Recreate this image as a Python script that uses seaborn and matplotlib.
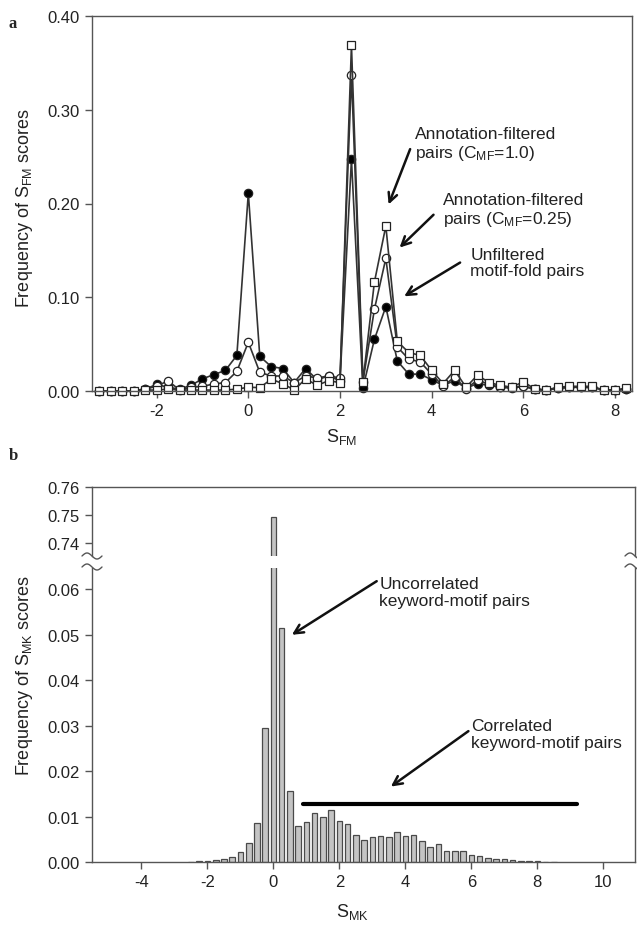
import numpy as np
import pandas as pd
import matplotlib
matplotlib.use("Agg")
import matplotlib.pyplot as plt
import seaborn as sns

# ---- panel a data: frequency of S_FM scores ----
score_a = np.arange(-3.25, 8.26, 0.25)
unfiltered = [0, 0, 0, 0, 0.002, 0.007, 0.004, 0.002, 0.006, 0.013, 0.0175, 0.022, 0.038,
              0.211, 0.037, 0.026, 0.024, 0.009, 0.024, 0.012, 0.016, 0.011, 0.247, 0.003,
              0.055, 0.090, 0.032, 0.018, 0.018, 0.012, 0.006, 0.011, 0.003, 0.008, 0.006,
              0.004, 0.003, 0.005, 0.002, 0.001, 0.003, 0.004, 0.004, 0.004, 0.001, 0.001, 0.002]
filt_025 = [0, 0, 0, 0, 0.002, 0.005, 0.011, 0.001, 0.004, 0.005, 0.0075, 0.009, 0.021,
            0.052, 0.020, 0.016, 0.016, 0.009, 0.016, 0.014, 0.016, 0.014, 0.337, 0.010,
            0.087, 0.1415, 0.047, 0.034, 0.031, 0.018, 0.005, 0.015, 0.002, 0.012, 0.007,
            0.004, 0.004, 0.005, 0.002, 0.001, 0.003, 0.004, 0.004, 0.004, 0.001, 0.001, 0.002]
filt_10 = [0, 0, 0, 0, 0.001, 0.001, 0.002, 0.001, 0.001, 0.001, 0.001, 0.001, 0.002,
           0.004, 0.0036, 0.0125, 0.008, 0.001, 0.013, 0.006, 0.011, 0.009, 0.369, 0.010,
           0.116, 0.176, 0.053, 0.041, 0.038, 0.022, 0.008, 0.022, 0.004, 0.017, 0.009,
           0.006, 0.004, 0.010, 0.002, 0.001, 0.004, 0.005, 0.005, 0.005, 0.001, 0.001, 0.003]

# ---- panel b data: frequency of S_MK scores ----
score_b = np.arange(-2.5, 8.51, 0.25)
freq_b = [0.0001, 0.0002, 0.0002, 0.0005, 0.0007, 0.0012, 0.0022, 0.0041, 0.0085, 0.0294,
          0.7495, 0.0515, 0.0156, 0.0080, 0.0088, 0.0108, 0.0098, 0.0115, 0.0091, 0.0084,
          0.0060, 0.0048, 0.0054, 0.0058, 0.0055, 0.0065, 0.0058, 0.0060, 0.0046, 0.0032,
          0.0039, 0.0024, 0.0024, 0.0024, 0.0015, 0.0013, 0.0009, 0.0007, 0.0006, 0.0004,
          0.0003, 0.0003, 0.0002, 0.0001, 0.0001]
corr_x = [0.9, 9.2]
corr_y = [0.0127, 0.0127]

df_b = pd.DataFrame({'score': score_b, 'freq': freq_b})

sns.set_style("white")
plt.rcParams['font.family'] = ['Liberation Sans', 'DejaVu Sans']
plt.rcParams['mathtext.fontset'] = 'custom'
plt.rcParams['mathtext.rm'] = 'Liberation Sans'
plt.rcParams['axes.unicode_minus'] = False

W, H = 637, 928
fig = plt.figure(figsize=(6.37, 9.28), dpi=100)

def box(l, t, r, b):
    return [l / W, 1 - b / H, (r - l) / W, (b - t) / H]

spine_c = '#555555'
line_c = '#333333'

def style(ax):
    for s in ax.spines.values():
        s.set_color(spine_c)
        s.set_linewidth(1.0)
    ax.tick_params(bottom=True, left=True, top=False, right=False, direction='out',
                   length=5, width=1, color=spine_c, labelsize=12, labelcolor='#222222', pad=4)
    ax.set_xlabel('')
    ax.set_ylabel('')

# ---------------- panel a ----------------
ax = fig.add_axes(box(92, 17, 632, 392))
common = dict(color=line_c, linewidth=1.2, markersize=6, markeredgewidth=0.9,
              markeredgecolor='#222222', clip_on=False)
sns.lineplot(x=score_a, y=unfiltered, ax=ax, marker='o', markerfacecolor='black', **common)
sns.lineplot(x=score_a, y=filt_025, ax=ax, marker='o', markerfacecolor='white', **common)
sns.lineplot(x=score_a, y=filt_10, ax=ax, marker='s', markerfacecolor='white', **common)
ax.set_xlim(-3.41, 8.37)
ax.set_ylim(0, 0.40)
ax.set_xticks([-2, 0, 2, 4, 6, 8])
ax.set_yticks([0, 0.1, 0.2, 0.3, 0.4])
ax.set_yticklabels(['0.00', '0.10', '0.20', '0.30', '0.40'])
style(ax)

txt = dict(fontsize=12.5, ha='left', va='center', color='#222222', linespacing=1.15)
arr = dict(arrowstyle='->', lw=1.8, color='#111111', mutation_scale=16, shrinkA=0, shrinkB=0)
ax.text(3.64, 0.263, 'Annotation-filtered\npairs (C$\\mathregular{_{MF}}$=1.0)', **txt)
ax.text(4.25, 0.193, 'Annotation-filtered\npairs (C$\\mathregular{_{MF}}$=0.25)', **txt)
ax.text(4.84, 0.137, 'Unfiltered\nmotif-fold pairs', **txt)
ax.annotate('', xy=(3.06, 0.199), xytext=(3.53, 0.258), arrowprops=arr)
ax.annotate('', xy=(3.30, 0.153), xytext=(4.04, 0.188), arrowprops=arr)
ax.annotate('', xy=(3.40, 0.101), xytext=(4.62, 0.137), arrowprops=arr)

# ---------------- panel b (broken y axis) ----------------
ax_t = fig.add_axes(box(92, 488, 635, 557))
ax_b = fig.add_axes(box(92, 569, 635, 863))
edges = [float(v) for v in np.append(score_b - 0.125, score_b[-1] + 0.125)]
for a in (ax_t, ax_b):
    sns.histplot(data=df_b, x='score', weights='freq', bins=edges, shrink=0.68, ax=a,
                 color='#c4c4c4', edgecolor='#4a4a4a', linewidth=0.9, alpha=1)
    a.set_xlim(-5.5, 10.96)
    style(a)

ax_t.set_ylim(0.7355, 0.76)
ax_t.set_yticks([0.74, 0.75, 0.76])
ax_t.set_yticklabels(['0.74', '0.75', '0.76'])
ax_t.set_xticks([])
ax_t.spines['bottom'].set_visible(False)

ax_b.set_ylim(0, 0.0647)
ax_b.set_yticks([0, 0.01, 0.02, 0.03, 0.04, 0.05, 0.06])
ax_b.set_yticklabels(['0.00', '0.01', '0.02', '0.03', '0.04', '0.05', '0.06'])
ax_b.set_xticks([-4, -2, 0, 2, 4, 6, 8, 10])
ax_b.spines['top'].set_visible(False)

sns.lineplot(x=corr_x, y=corr_y, ax=ax_b, color='black', linewidth=3)

ax_b.text(3.21, 0.0594, 'Uncorrelated\nkeyword-motif pairs', **txt)
ax_b.text(5.98, 0.0281, 'Correlated\nkeyword-motif pairs', **txt)
ax_b.annotate('', xy=(0.56, 0.050), xytext=(3.13, 0.0618), arrowprops=arr)
ax_b.annotate('', xy=(3.56, 0.0166), xytext=(5.91, 0.0288), arrowprops=arr)

# break marks on both spines
t = np.linspace(-1, 1, 30)
for xs in (92, 635):
    for ys in (557, 568):
        fig.add_artist(plt.Line2D((xs + 10 * t) / W, 1 - (ys + 3 * np.sin(np.pi * t)) / H,
                                  color=spine_c, lw=1.0, transform=fig.transFigure))

# labels
fig.text(25 / W, 1 - 208 / H, 'Frequency of S$\\mathregular{_{FM}}$ scores', rotation=90,
         ha='center', va='center', fontsize=13, color='#222222')
fig.text(25 / W, 1 - 675 / H, 'Frequency of S$\\mathregular{_{MK}}$ scores', rotation=90,
         ha='center', va='center', fontsize=13, color='#222222')
fig.text(342 / W, 1 - 437 / H, 'S$\\mathregular{_{FM}}$', ha='center', va='center',
         fontsize=13, color='#222222')
fig.text(352 / W, 1 - 912 / H, 'S$\\mathregular{_{MK}}$', ha='center', va='center',
         fontsize=13, color='#222222')
fig.text(13 / W, 1 - 24 / H, 'a', family='Liberation Serif', weight='bold', fontsize=12,
         ha='center', va='center')
fig.text(13 / W, 1 - 456 / H, 'b', family='Liberation Serif', weight='bold', fontsize=12,
         ha='center', va='center')

fig.savefig('out.png', dpi=100)
